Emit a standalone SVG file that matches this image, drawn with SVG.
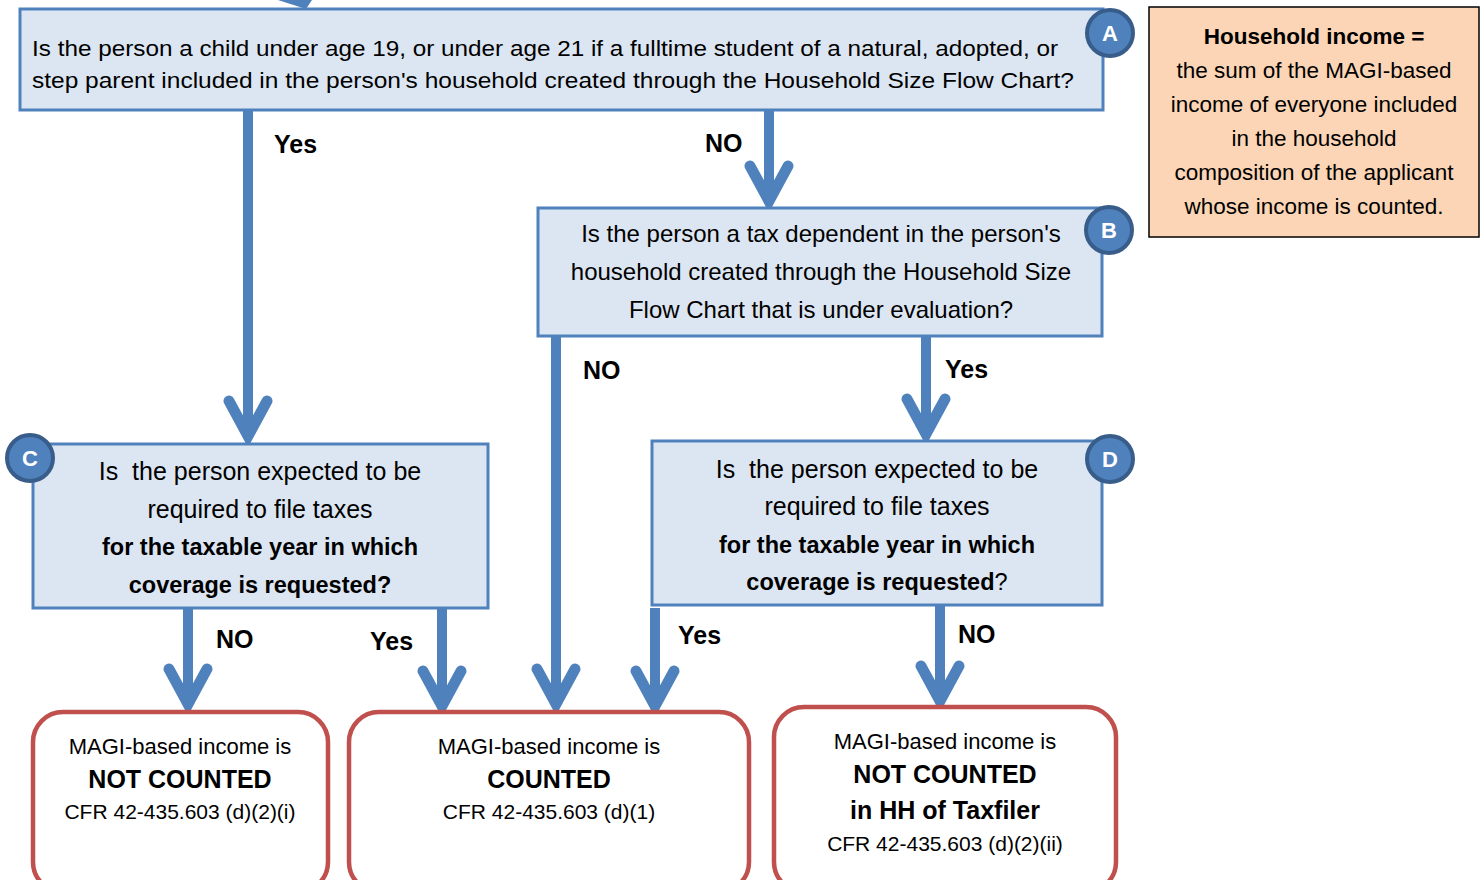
<svg xmlns="http://www.w3.org/2000/svg" width="1484" height="880" viewBox="0 0 1484 880">
<style>
.q{fill:#dce6f2;stroke:#4f81bd;stroke-width:3}
.r{fill:#fff;stroke:#c0504d;stroke-width:4.5}
.t{font-family:"Liberation Sans",Arial,sans-serif;font-size:21px;fill:#000}
.b{font-weight:bold}
.lbl{font-family:"Liberation Sans",Arial,sans-serif;font-size:25px;font-weight:bold;fill:#000}
.sh{stroke:#4f81bd;stroke-width:10;fill:none}
.hd{stroke:#4f81bd;stroke-width:11;fill:none;stroke-linecap:round;stroke-linejoin:miter;stroke-miterlimit:10}
.cc{fill:#4f81bd;stroke:#385d8a;stroke-width:4}
.cl{font-family:"Liberation Sans",Arial,sans-serif;font-size:22px;font-weight:bold;fill:#fff}
.s22{font-size:22px}
.s225{font-size:22.5px}
.s24{font-size:24px}
.s25{font-size:25px}
.s235{font-size:23.5px}
</style>
<rect width="1484" height="880" fill="#fff"/>
<g id="connectors">
<polygon points="278,0 312,0 306,9" fill="#4f81bd"/>
<line class="sh" x1="248" y1="110" x2="248" y2="430"/>
<polyline class="hd" points="229,401 248,436 267,401"/>
<line class="sh" x1="769" y1="110" x2="769" y2="196"/>
<polyline class="hd" points="750,166 769,201 788,166"/>
<line class="sh" x1="556" y1="336" x2="556" y2="698"/>
<polyline class="hd" points="537,669 556,704 575,669"/>
<line class="sh" x1="926" y1="336" x2="926" y2="428"/>
<polyline class="hd" points="907,399 926,434 945,399"/>
<line class="sh" x1="188" y1="608" x2="188" y2="698"/>
<polyline class="hd" points="169,669 188,704 207,669"/>
<line class="sh" x1="442" y1="608" x2="442" y2="700"/>
<polyline class="hd" points="423,671 442,706 461,671"/>
<line class="sh" x1="655" y1="608" x2="655" y2="700"/>
<polyline class="hd" points="636,671 655,706 674,671"/>
<line class="sh" x1="940" y1="606" x2="940" y2="695"/>
<polyline class="hd" points="921,666 940,701 959,666"/>
<text class="lbl" x="274" y="153">Yes</text>
<text class="lbl" x="705" y="152">NO</text>
<text class="lbl" x="583" y="379">NO</text>
<text class="lbl" x="945" y="378">Yes</text>
<text class="lbl" x="216" y="648">NO</text>
<text class="lbl" x="370" y="650">Yes</text>
<text class="lbl" x="678" y="644">Yes</text>
<text class="lbl" x="958" y="643">NO</text>
</g>
<g id="nodeA">
<rect class="q" x="20" y="9" width="1083" height="101"/>
<text class="t s22" x="32" y="56" textLength="1026" lengthAdjust="spacingAndGlyphs">Is the person a child under age 19, or under age 21 if a fulltime student of a natural, adopted, or</text>
<text class="t s22" x="32" y="88" textLength="1042" lengthAdjust="spacingAndGlyphs">step parent included in the person's household created through the Household Size Flow Chart?</text>
<circle class="cc" cx="1110" cy="33" r="23"/>
<text class="cl" x="1110" y="41" text-anchor="middle">A</text>
</g>
<g id="note">
<rect x="1149" y="7" width="330" height="230" fill="#fbd5b5" stroke="#000" stroke-width="1.5"/>
<text class="t s225 b" x="1314" y="44" text-anchor="middle">Household income =</text>
<text class="t s225" x="1314" y="78" text-anchor="middle">the sum of the MAGI-based</text>
<text class="t s225" x="1314" y="112" text-anchor="middle">income of everyone included</text>
<text class="t s225" x="1314" y="146" text-anchor="middle">in the household</text>
<text class="t s225" x="1314" y="180" text-anchor="middle">composition of the applicant</text>
<text class="t s225" x="1314" y="214" text-anchor="middle">whose income is counted.</text>
</g>
<g id="nodeB">
<rect class="q" x="538" y="208" width="564" height="128"/>
<text class="t s24" x="821" y="242" text-anchor="middle">Is the person a tax dependent in the person's</text>
<text class="t s24" x="821" y="280" text-anchor="middle">household created through the Household Size</text>
<text class="t s24" x="821" y="318" text-anchor="middle">Flow Chart that is under evaluation?</text>
<circle class="cc" cx="1109" cy="230" r="23"/>
<text class="cl" x="1109" y="238" text-anchor="middle">B</text>
</g>
<g id="nodeC">
<rect class="q" x="33" y="444" width="455" height="164"/>
<text class="t s25" x="260" y="480" text-anchor="middle">Is&#160; the person expected to be</text>
<text class="t s25" x="260" y="518" text-anchor="middle">required to file taxes</text>
<text class="t s235 b" x="260" y="555" text-anchor="middle">for the taxable year in which</text>
<text class="t s235 b" x="260" y="593" text-anchor="middle">coverage is requested?</text>
<circle class="cc" cx="30" cy="458" r="23"/>
<text class="cl" x="30" y="466" text-anchor="middle">C</text>
</g>
<g id="nodeD">
<rect class="q" x="652" y="441" width="450" height="164"/>
<text class="t s25" x="877" y="478" text-anchor="middle">Is&#160; the person expected to be</text>
<text class="t s25" x="877" y="515" text-anchor="middle">required to file taxes</text>
<text class="t s235 b" x="877" y="553" text-anchor="middle">for the taxable year in which</text>
<text class="t s235" x="877" y="590" text-anchor="middle"><tspan class="b">coverage is requested</tspan>?</text>
<circle class="cc" cx="1110" cy="459" r="23"/>
<text class="cl" x="1110" y="467" text-anchor="middle">D</text>
</g>
<g id="out1">
<rect class="r" x="33" y="712" width="295" height="180" rx="30"/>
<text class="t s22" x="180" y="754" text-anchor="middle">MAGI-based income is</text>
<text class="t b s25" x="180" y="788" text-anchor="middle">NOT COUNTED</text>
<text class="t" x="180" y="819" text-anchor="middle">CFR 42-435.603 (d)(2)(i)</text>
</g>
<g id="out2">
<rect class="r" x="349" y="712" width="400" height="180" rx="30"/>
<text class="t s22" x="549" y="754" text-anchor="middle">MAGI-based income is</text>
<text class="t b s25" x="549" y="788" text-anchor="middle">COUNTED</text>
<text class="t" x="549" y="819" text-anchor="middle">CFR 42-435.603 (d)(1)</text>
</g>
<g id="out3">
<rect class="r" x="774" y="707" width="342" height="185" rx="30"/>
<text class="t s22" x="945" y="749" text-anchor="middle">MAGI-based income is</text>
<text class="t b s25" x="945" y="783" text-anchor="middle">NOT COUNTED</text>
<text class="t b s25" x="945" y="819" text-anchor="middle">in HH of Taxfiler</text>
<text class="t" x="945" y="851" text-anchor="middle">CFR 42-435.603 (d)(2)(ii)</text>
</g>
</svg>
